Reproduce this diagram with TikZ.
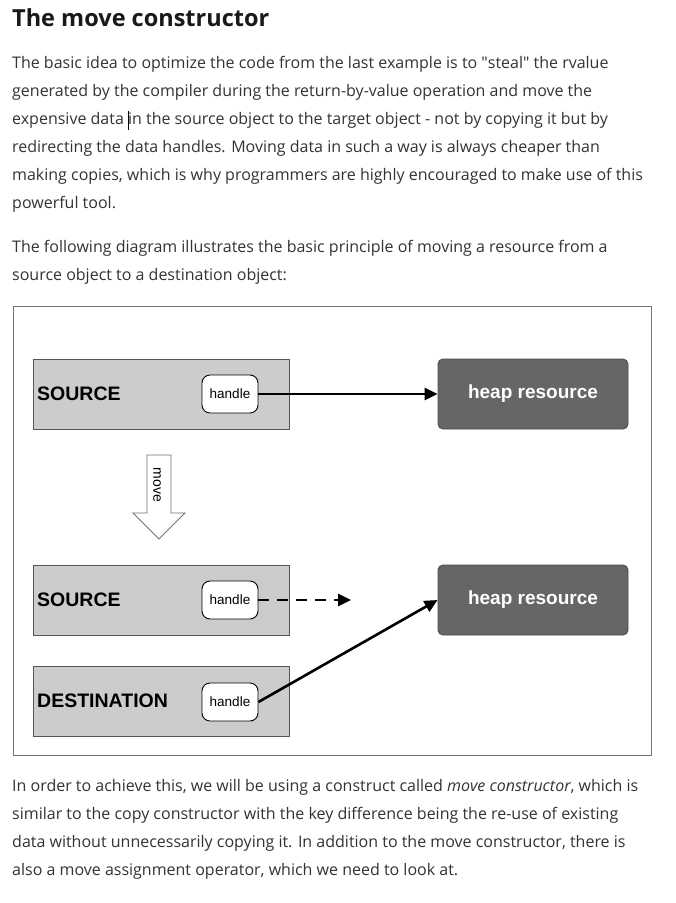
\documentclass[tikz,border=0pt]{standalone}
\usepackage{fontspec}
\setmainfont{Open Sans}
\newfontfamily\qfont{Open Sans}
\newfontfamily\diagfont{Liberation Sans}
\usetikzlibrary{arrows.meta}
\definecolor{bodytext}{HTML}{333333}
\definecolor{srcfill}{HTML}{CCCCCC}
\definecolor{heapfill}{HTML}{666666}
\definecolor{boxline}{HTML}{555555}
\tikzset{
  para/.style={anchor=base west, inner sep=0pt, text=bodytext, font=\fontsize{16}{19}\selectfont},
  objbox/.style={draw=boxline, fill=srcfill, line width=0.9pt, minimum width=256pt, minimum height=70pt, inner sep=0pt},
  heapbox/.style={draw=black!70, fill=heapfill, rounded corners=5pt, line width=0.9pt, minimum width=190pt, minimum height=70pt, text=white, font=\diagfont\bfseries\fontsize{19}{22}\selectfont},
  handlebox/.style={draw=black, fill=white, rounded corners=8pt, line width=0.9pt, minimum width=56pt, minimum height=38pt, inner sep=0pt, font=\diagfont\fontsize{13.5}{15}\selectfont},
  objlabel/.style={anchor=west, inner sep=0pt, font=\diagfont\bfseries\fontsize{19.5}{22}\selectfont},
  ptr/.style={line width=2.6pt, -{Triangle[length=13pt,width=12pt]}},
}
\begin{document}
\begin{tikzpicture}[x=1pt,y=-1pt]
\useasboundingbox (0,0) rectangle (676,903);
\fill[white] (0,0) rectangle (676,903);
% title
\node[anchor=base west, inner sep=0pt, text=black!90, font=\bfseries\fontsize{23.5}{27}\selectfont] (title) at (12,26) {The move constructor};
% paragraph 1
\node[para] (p1a) at (12,68) {The basic idea to optimize the code from the last example is to {\qfont"}steal{\qfont"} the rvalue};
\node[para] (p1b) at (12,96) {generated by the compiler during the return-by-value operation and move the};
\node[para] (p1c) at (12,124) {expensive data in the source object to the target object - not by copying it but by};
\node[para] (p1d) at (12,152) {redirecting the data handles. Moving data in such a way is always cheaper than};
\node[para] (p1e) at (12,180) {making copies, which is why programmers are highly encouraged to make use of this};
\node[para] (p1f) at (12,208) {powerful tool.};
\draw[black, line width=1pt] (128.5,111) -- (128.5,130);
% paragraph 2
\node[para] (p2a) at (12,252) {The following diagram illustrates the basic principle of moving a resource from a};
\node[para] (p2b) at (12,280) {source object to a destination object:};
% frame
\draw[black!55, line width=0.9pt] (13,306) rectangle (651,755);
% objects
\node[objbox] (src1) at (161,394) {};
\node[objlabel] (src1l) at (37,394) {SOURCE};
\node[handlebox] (h1) at (230,394) {handle};
\node[heapbox] (heap1) at (533,394) {heap resource};
\draw[ptr] (h1.east) -- (heap1.west);
% move arrow
\draw[black!55, fill=white, line width=0.9pt] (147,455) coordinate (mvtop) -- (171,455) -- (171,513) -- (185,513) -- (159,539) coordinate (mvtip) -- (133,513) -- (147,513) -- cycle;
\node[rotate=-90, inner sep=0pt, font=\diagfont\fontsize{14}{16}\selectfont] (movel) at (157,485) {move};
% second state
\node[objbox] (src2) at (161,600) {};
\node[objlabel] (src2l) at (37,600) {SOURCE};
\node[handlebox] (h2) at (230,600) {handle};
\coordinate (nullend) at (351,600);
\draw[ptr, dash pattern=on 11pt off 8pt] (h2.east) -- (nullend);
\node[heapbox] (heap2) at (533,600) {heap resource};
\node[objbox] (dst) at (161,701) {};
\node[objlabel] (dstl) at (37,701) {DESTINATION};
\node[handlebox] (h3) at (230,702) {handle};
\draw[ptr] (h3.east) -- (heap2.west);
% paragraph 3
\node[para] (p3a) at (12,791) {In order to achieve this, we will be using a construct called \textit{move constructor}, which is};
\node[para] (p3b) at (12,819) {similar to the copy constructor with the key difference being the re-use of existing};
\node[para] (p3c) at (12,847) {data without unnecessarily copying it. In addition to the move constructor, there is};
\node[para] (p3d) at (12,875) {also a move assignment operator, which we need to look at.};
\end{tikzpicture}
\end{document}
